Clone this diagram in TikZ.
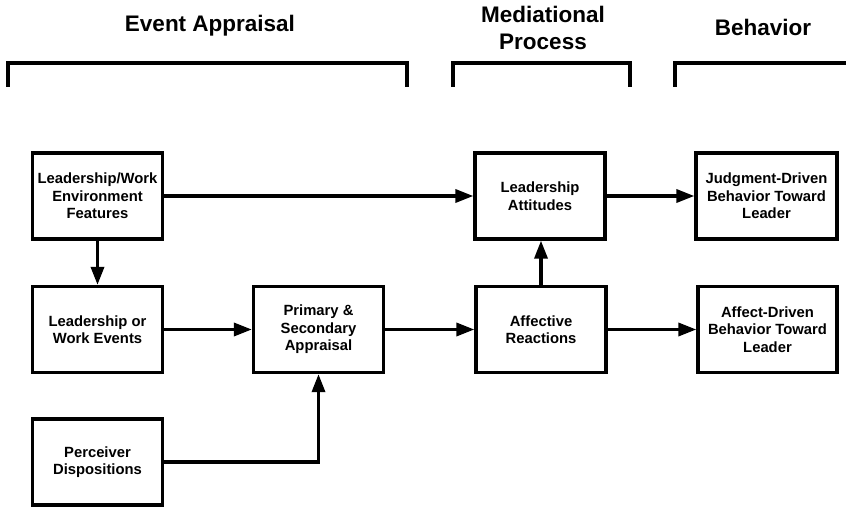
\documentclass[tikz,border=0pt]{standalone}
\usepackage{fontspec}
\setmainfont{Liberation Sans}
\usetikzlibrary{arrows.meta}
\begin{document}
\begin{tikzpicture}[x=1pt,y=-1pt,
  box/.style={draw,line width=3.3pt,minimum width=130pt,minimum height=86pt,
    align=center,inner sep=0pt,font=\bfseries\fontsize{14.8}{17.5}\selectfont},
  title/.style={align=center,font=\bfseries\fontsize{22.5}{27}\selectfont},
  link/.style={line width=3.3pt,-{Triangle[length=18pt,width=13pt]}},
  bracket/.style={line width=3.3pt}]
\useasboundingbox (0,0) rectangle (846,508);

% stage headings
\node[title] (tEA) at (210,26) {Event Appraisal};
\node[title] (tMP) at (543,28) {Mediational\\Process};
\node[title] (tBH) at (763,27) {Behavior};

% stage brackets
\draw[bracket] (8,87) -- (8,63) -- (407,63) -- (407,87);
\draw[bracket] (453,87) -- (453,63) -- (630,63) -- (630,87);
\draw[bracket] (675,87) -- (675,63) -- (850,63);

% boxes
\node[box] (env)  at (97.5,196)  {Leadership/Work\\Environment\\Features};
\node[box] (evt)  at (97.5,329.5) {Leadership or\\Work Events};
\node[box] (disp) at (97.5,462)  {Perceiver\\Dispositions};
\node[box] (app)  at (318.5,329.5) {Primary \&\\Secondary\\Appraisal};
\node[box] (att)  at (540,196)   {Leadership\\Attitudes};
\node[box] (aff)  at (541,329.5) {Affective\\Reactions};
\node[box,minimum width=141pt] (jdb) at (766.5,196) {Judgment-Driven\\Behavior Toward\\Leader};
\node[box,minimum width=139pt] (adb) at (767.5,329.5) {Affect-Driven\\Behavior Toward\\Leader};

% connectors
\draw[link] (env) -- (att);
\draw[link] (env) -- (evt);
\draw[link] (evt) -- (app);
\draw[link] (app) -- (aff);
\draw[link] (aff.north) -- (aff.north |- att.south);
\draw[link] (att) -- (jdb);
\draw[link] (aff) -- (adb);
\draw[link] (disp.east) -| (app.south);
\end{tikzpicture}
\end{document}
